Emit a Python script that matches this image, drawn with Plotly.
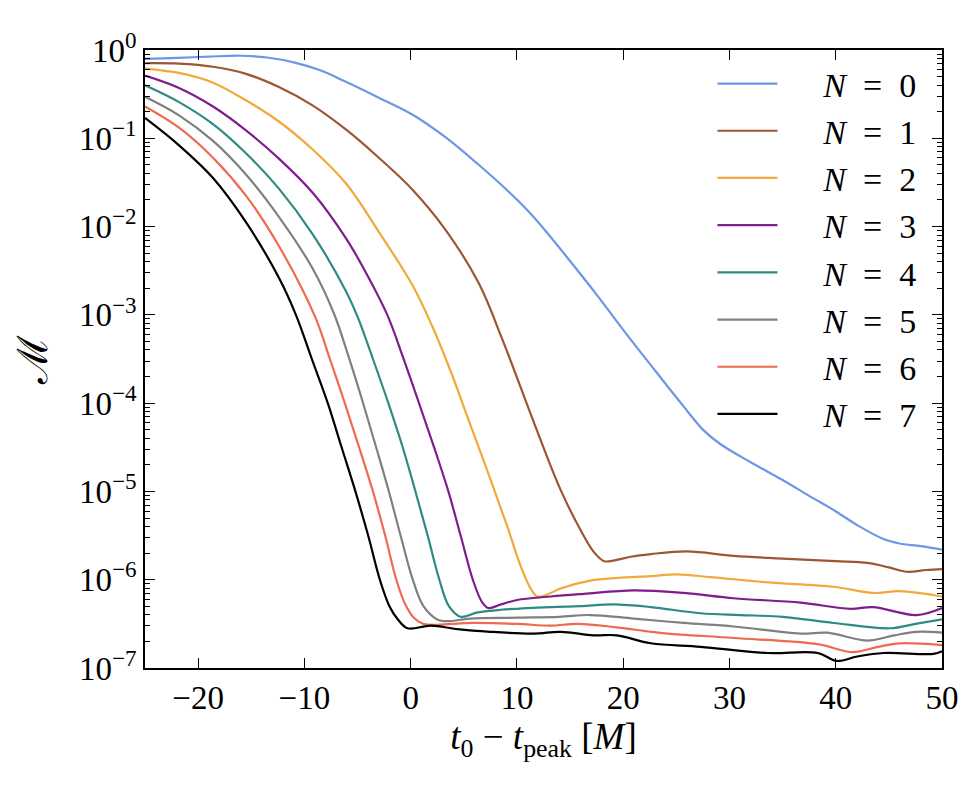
import numpy as np
import plotly.graph_objects as go

# log10 of the mismatch, for each overtone number N
x_n0 = [-25, -22, -19, -16, -13.5, -11, -8.5, -6.1, -3, 0.15, 3.3, 6.4, 9, 11.1, 12.7, 14.6, 17.3, 20, 22.6,
        25.7, 27.5, 29.1, 32, 35, 37.5, 39.8, 42, 44.5, 46, 48, 50]
log_n0 = [-0.10, -0.09, -0.075, -0.065, -0.085, -0.14, -0.23, -0.36, -0.54, -0.73, -0.99, -1.30, -1.58, -1.83,
          -2.05, -2.33, -2.74, -3.17, -3.57, -4.04, -4.30, -4.46, -4.67, -4.87, -5.05, -5.21, -5.38, -5.54,
          -5.59, -5.62, -5.66]

x_n1 = [-25, -21.8, -18.6, -15.5, -12.4, -9.2, -6.1, -3.0, 0.15, 3.3, 6.4, 8.6, 11.6, 14.1, 16.0, 17.2, 18.2,
        19.2, 20.7, 22.6, 26, 30.4, 35, 40, 43, 45, 46.7, 48.5, 50]
log_n1 = [-0.15, -0.155, -0.19, -0.27, -0.42, -0.63, -0.90, -1.22, -1.58, -2.04, -2.64, -3.27, -4.22, -4.98,
          -5.44, -5.68, -5.79, -5.78, -5.74, -5.71, -5.68, -5.73, -5.76, -5.79, -5.81, -5.86, -5.91, -5.89, -5.88]

x_n2 = [-25, -21.8, -18.6, -15.5, -12.4, -9.2, -6.1, -3.0, 0.15, 2.0, 3.8, 5.6, 7.5, 9.1, 10.3, 11.2, 11.9,
        12.8, 14.1, 16.9, 19.5, 22.6, 25, 28.2, 33.6, 39.8, 43.5, 46, 50]
log_n2 = [-0.21, -0.26, -0.37, -0.57, -0.81, -1.13, -1.51, -2.06, -2.66, -3.12, -3.65, -4.24, -4.86, -5.40,
          -5.83, -6.08, -6.19, -6.17, -6.10, -6.01, -5.98, -5.96, -5.94, -5.97, -6.03, -6.08, -6.15, -6.13, -6.19]

x_n3 = [-25, -21.8, -18.6, -15.5, -12.4, -9.2, -6.1, -4.4, -2.2, -0.75, 0.7, 2.15, 3.55, 4.7, 5.85, 6.7, 7.3,
        8.5, 10, 13.2, 16.3, 21, 25.7, 30.4, 36.7, 41.4, 43.5, 47.6, 50]
log_n3 = [-0.29, -0.43, -0.64, -0.91, -1.23, -1.62, -2.13, -2.48, -3.00, -3.47, -3.97, -4.48, -5.00, -5.50,
          -6.00, -6.25, -6.32, -6.28, -6.23, -6.19, -6.16, -6.12, -6.15, -6.21, -6.26, -6.33, -6.31, -6.40, -6.32]

x_n4 = [-25, -21.8, -18.6, -15.5, -12.4, -9.2, -6.1, -5.0, -3.55, -2.1, -0.75, 0.45, 1.6, 2.7, 3.6, 4.7, 6.3,
        8.5, 13.2, 16, 19.1, 22.6, 27.3, 31, 35, 39.8, 45.1, 47.5, 50]
log_n4 = [-0.40, -0.59, -0.84, -1.17, -1.57, -2.09, -2.73, -3.02, -3.50, -4.00, -4.50, -5.00, -5.50, -6.00,
          -6.30, -6.42, -6.37, -6.34, -6.31, -6.30, -6.28, -6.31, -6.38, -6.40, -6.42, -6.49, -6.55, -6.50, -6.45]

x_n5 = [-25, -21.8, -18.6, -15.5, -12.4, -9.2, -7.2, -5.85, -4.55, -3.3, -2.05, -0.95, 0.2, 1.2, 2.5, 3.5,
        5.6, 10, 14, 16.9, 21, 25.7, 30.4, 36.7, 39.2, 43, 45.5, 47.6, 50]
log_n5 = [-0.53, -0.74, -1.03, -1.41, -1.89, -2.48, -2.99, -3.47, -3.97, -4.48, -5.00, -5.50, -6.00, -6.30,
          -6.45, -6.47, -6.44, -6.43, -6.42, -6.40, -6.44, -6.49, -6.53, -6.61, -6.60, -6.69, -6.63, -6.59, -6.60]

x_n6 = [-25, -21.8, -18.6, -15.5, -12.4, -9.0, -7.6, -6.2, -4.85, -3.55, -2.4, -1.35, -0.5, 0.3, 1.2, 2.5,
        5.9, 10, 13.2, 15.7, 19.4, 22.6, 24.2, 30.4, 38.3, 41.6, 44, 46, 50]
log_n6 = [-0.64, -0.88, -1.22, -1.65, -2.22, -3.02, -3.50, -4.00, -4.50, -5.00, -5.50, -6.00, -6.28, -6.43,
          -6.50, -6.51, -6.49, -6.50, -6.52, -6.50, -6.54, -6.59, -6.61, -6.66, -6.73, -6.82, -6.76, -6.72, -6.74]

x_n7 = [-25, -21.8, -18.6, -15.5, -12.4, -10.8, -9.3, -7.8, -6.5, -5.2, -4.0, -2.9, -2.0, -1.2, -0.3, 1.9,
        4.4, 7.5, 11.6, 14.1, 17.2, 19.4, 22.6, 27.3, 33.6, 38.3, 40.1, 42, 44.5, 49.2, 50]
log_n7 = [-0.77, -1.08, -1.45, -1.95, -2.58, -3.00, -3.50, -4.00, -4.50, -5.00, -5.50, -6.00, -6.30, -6.45,
          -6.55, -6.52, -6.56, -6.59, -6.61, -6.59, -6.63, -6.63, -6.72, -6.76, -6.83, -6.83, -6.92, -6.87,
          -6.83, -6.84, -6.81]

series_x = [x_n0, x_n1, x_n2, x_n3, x_n4, x_n5, x_n6, x_n7]
series_log = [log_n0, log_n1, log_n2, log_n3, log_n4, log_n5, log_n6, log_n7]
n_values = ["0", "1", "2", "3", "4", "5", "6", "7"]
colors = ["#6D97E6", "#9C5632", "#F2A93B", "#7E1D8C", "#2F8A84", "#808080", "#EE6A50", "#000000"]

x_ticks = [-20, -10, 0, 10, 20, 30, 40, 50]
x_ticktext = ["−20", "−10", "0", "10", "20", "30", "40", "50"]
y_ticks = [1e0, 1e-1, 1e-2, 1e-3, 1e-4, 1e-5, 1e-6, 1e-7]
y_ticktext = ["10<sup>0</sup>", "10<sup>−1</sup>", "10<sup>−2</sup>", "10<sup>−3</sup>",
              "10<sup>−4</sup>", "10<sup>−5</sup>", "10<sup>−6</sup>", "10<sup>−7</sup>"]

FONT = "Liberation Serif"

fig = go.Figure()
for xs, ls, nv, col in zip(series_x, series_log, n_values, colors):
    fig.add_trace(go.Scatter(
        x=xs, y=np.power(10.0, ls), mode="lines",
        name="\u2003\u2009<i>N</i>\u2002=\u2002" + nv,
        legendgroup="g" + nv,
        line=dict(color=col, width=2.2, shape="spline", smoothing=1.0),
    ))

minor_vals = [m * 10.0 ** e for e in range(-7, 0) for m in range(2, 10)]

fig.update_layout(
    width=968, height=780,
    margin=dict(l=137, r=34, t=42, b=120),
    paper_bgcolor="white", plot_bgcolor="white",
    font=dict(family=FONT, size=33, color="black"),
    showlegend=True,
    legend=dict(x=0.712, y=0.992, xanchor="left", yanchor="top",
                bgcolor="rgba(0,0,0,0)", borderwidth=0,
                font=dict(family=FONT, size=34), itemwidth=60,
                tracegroupgap=1, traceorder="normal"),
    xaxis=dict(
        range=[-25, 50], tickmode="array", tickvals=x_ticks, ticktext=x_ticktext,
        ticks="inside", ticklen=10, tickwidth=1.2, tickcolor="black",
        showline=True, linecolor="black", linewidth=1.5, mirror="ticks",
        showgrid=False, zeroline=False,
        tickfont=dict(family=FONT, size=33),
        title=dict(text="<i>t</i><sub>0</sub> − <i>t</i><sub>peak</sub> [<i>M</i>]",
                   font=dict(family=FONT, size=37), standoff=8),
    ),
    yaxis=dict(
        type="log", range=[-7, 0], tickmode="array", tickvals=y_ticks, ticktext=y_ticktext,
        ticks="inside", ticklen=10, tickwidth=1.2, tickcolor="black",
        showline=True, linecolor="black", linewidth=1.5, mirror="ticks",
        showgrid=False, zeroline=False,
        tickfont=dict(family=FONT, size=33),
        minor=dict(ticks="inside", ticklen=5, tickcolor="black", tickwidth=1,
                   tickmode="array", tickvals=minor_vals, showgrid=False),
        title=dict(text="ℳ", font=dict(family=FONT, size=42), standoff=18),
    ),
)

fig.write_html("out.html")
